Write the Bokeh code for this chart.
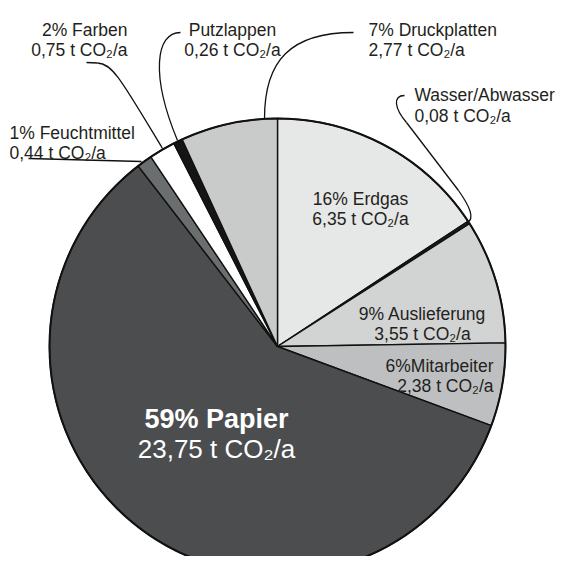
import numpy as np
from bokeh.plotting import figure
from bokeh.models import Range1d, ColumnDataSource
from bokeh.embed import file_html
from bokeh.resources import INLINE
from bokeh.core.properties import value

# ---- data ----
categories = ["Erdgas", "Wasser/Abwasser", "Auslieferung", "Mitarbeiter", "Papier",
              "Feuchtmittel", "Farben", "Putzlappen", "Druckplatten"]
values = [6.35, 0.08, 3.55, 2.38, 23.75, 0.44, 0.75, 0.26, 2.77]
titles = ["16% Erdgas", "Wasser/Abwasser", "9% Auslieferung", "6%Mitarbeiter", "59% Papier",
          "1% Feuchtmittel", "2% Farben", "Putzlappen", "7% Druckplatten"]
colors = ["#e6e7e7", "#1c1c1c", "#d2d3d3", "#bebfc0", "#4c4d4f",
          "#6b6e6f", "#ffffff", "#151515", "#c9caca"]

# ---- layout (reference pixel coordinates) ----
H = 572
def Y(py):
    return H - py

# label anchor: (x, baseline1, baseline2, align)
label_pos = {
    "Erdgas": (360, 198, 218, "center"),
    "Wasser/Abwasser": (414, 94, 115, "left"),
    "Auslieferung": (422, 313, 333, "center"),
    "Mitarbeiter": (493, 365, 385, "right"),
    "Feuchtmittel": (9, 132, 152, "left"),
    "Farben": (127, 29, 49, "right"),
    "Putzlappen": (232, 29, 49, "center"),
    "Druckplatten": (368, 29, 49, "left"),
}

p = figure(width=558, height=556, x_range=Range1d(0, 558), y_range=Range1d(Y(556), Y(0)),
           output_backend="svg", toolbar_location=None, min_border=0)
p.axis.visible = False
p.grid.visible = False
p.outline_line_color = None

cx, cy, R = 277, Y(346), 228
frac = np.array(values) / sum(values)
cum = np.concatenate([[0.0], np.cumsum(frac)]) * 2 * np.pi
start = np.pi / 2 - cum[1:]
end = np.pi / 2 - cum[:-1]
src = ColumnDataSource(dict(cat=categories, start=start, end=end, color=colors))
p.wedge(x=cx, y=cy, radius=R, start_angle="start", end_angle="end", fill_color="color",
        line_color="#111111", line_width=1.4, source=src)
p.arc(x=cx, y=cy, radius=R, start_angle=0, end_angle=2 * np.pi, line_color="#111111", line_width=2)

# ---- leader lines ----
lc = "#111111"
# Feuchtmittel straight
p.line([28, 141], [Y(158), Y(161)], line_color=lc, line_width=1.3)
# Farben
p.line([86, 97], [Y(62), Y(62.5)], line_color=lc, line_width=1.3)
p.bezier(x0=[97], y0=[Y(62.5)], cx0=[112], cy0=[Y(63)], cx1=[121], cy1=[Y(80)],
         x1=[162], y1=[Y(148)], line_color=lc, line_width=1.3)
# Putzlappen
p.bezier(x0=[180], y0=[Y(32)], cx0=[155], cy0=[Y(32)], cx1=[150], cy1=[Y(75)],
         x1=[177], y1=[Y(140)], line_color=lc, line_width=1.3)
# Druckplatten
p.bezier(x0=[353], y0=[Y(32)], cx0=[290], cy0=[Y(32)], cx1=[264], cy1=[Y(60)],
         x1=[264], y1=[Y(118)], line_color=lc, line_width=1.3)
# Wasser/Abwasser
p.bezier(x0=[404], y0=[Y(95)], cx0=[392], cy0=[Y(95)], cx1=[394], cy1=[Y(108)],
         x1=[406], y1=[Y(122)], line_color=lc, line_width=1.3)
p.line([406, 458], [Y(122), Y(190)], line_color=lc, line_width=1.3)
p.bezier(x0=[458], y0=[Y(190)], cx0=[470], cy0=[Y(207)], cx1=[474], cy1=[Y(218)],
         x1=[467], y1=[Y(222)], line_color=lc, line_width=1.3)

# ---- labels ----
font = value("Liberation Sans")
tc = "#231f20"
for cat, title, v in zip(categories, titles, values):
    line2 = f"{v:.2f}".replace(".", ",") + " t CO\u2082/a"
    if cat == "Papier":
        p.text(x=[216], y=[Y(418)], text=[title], text_align="center", text_baseline="alphabetic",
               text_font=font, text_font_size="27px", text_font_style="bold", text_color="#ffffff")
        p.text(x=[216], y=[Y(448)], text=[line2], text_align="center", text_baseline="alphabetic",
               text_font=font, text_font_size="26px", text_color="#ffffff")
        continue
    x, b1, b2, al = label_pos[cat]
    p.text(x=[x, x], y=[Y(b1), Y(b2)], text=[title, line2], text_align=al,
           text_baseline="alphabetic", text_font=font, text_font_size="17.5px", text_color=tc)

open("out.html", "w").write(file_html(p, INLINE))
